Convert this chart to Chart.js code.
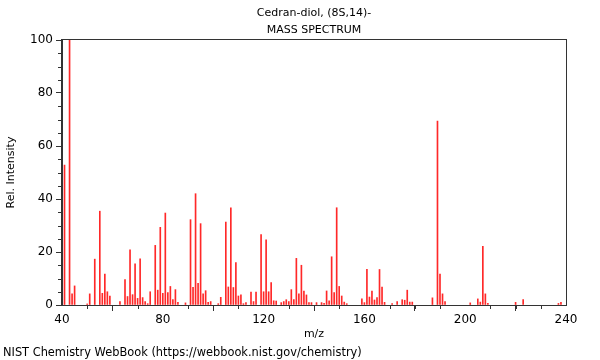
<!DOCTYPE html>
<html>
<head>
<meta charset="utf-8">
<script src="https://cdn.jsdelivr.net/npm/chart.js@4"></script>
<style>
  html, body { margin: 0; padding: 0; background: #fff; }
  #wrap { width: 600px; height: 360px; position: relative; }
</style>
</head>
<body>
<div id="wrap"><canvas id="massChart" width="600" height="360"></canvas></div>
<script>
// Spectrum peaks (m/z and relative intensity)
const mz = [41, 43, 44, 45, 50, 51, 53, 55, 56, 57, 58, 59, 63, 65, 66, 67, 68, 69, 70, 71,
            72, 73, 74, 75, 77, 78, 79, 80, 81, 82, 83, 84, 85, 86, 89, 91, 92, 93, 94, 95,
            96, 97, 98, 99, 102, 103, 105, 106, 107, 108, 109, 110, 111, 112, 113, 115, 116, 117, 119, 120,
            121, 122, 123, 124, 125, 127, 128, 129, 130, 131, 132, 133, 134, 135, 136, 137, 138, 139, 141, 143,
            144, 145, 146, 147, 148, 149, 150, 151, 152, 153, 159, 160, 161, 162, 163, 164, 165, 166, 167, 168,
            171, 173, 175, 176, 177, 178, 179, 187, 189, 190, 191, 192, 202, 205, 206, 207, 208, 209, 220, 223,
            237, 238];
const intensity = [52.8, 100, 4.2, 7.2, 0.4, 4.2, 17.3, 35.4, 4.4, 11.7, 5.0, 3.4, 1.3, 9.6, 3.2, 20.8, 3.9, 15.5, 2.5, 17.4,
            2.8, 1.3, 0.5, 5.0, 22.5, 5.6, 29.3, 4.4, 34.7, 4.7, 7.0, 2.0, 5.8, 1.0, 0.8, 32.2, 6.7, 42.0, 8.2, 30.7,
            4.2, 5.4, 1.0, 1.3, 0.5, 2.9, 31.3, 6.8, 36.7, 6.6, 16.0, 3.4, 3.8, 0.5, 0.9, 4.9, 1.3, 4.9, 26.6, 5.0,
            24.6, 5.0, 8.5, 1.6, 1.5, 0.9, 1.3, 2.0, 1.3, 5.8, 2.0, 17.6, 4.2, 15.0, 5.3, 3.8, 0.9, 0.9, 0.9, 0.9,
            0.6, 5.3, 1.6, 18.2, 4.7, 36.7, 7.0, 3.4, 1.1, 0.5, 2.3, 0.9, 13.5, 3.0, 5.3, 1.9, 2.8, 13.4, 6.8, 1.0,
            0.5, 1.3, 2.0, 1.8, 5.6, 1.1, 1.1, 2.7, 69.4, 11.7, 4.2, 1.3, 0.8, 2.3, 1.1, 22.1, 4.2, 0.6, 1.0, 2.0,
            0.6, 1.0];

const titleLines = ['Cedran-diol, (8S,14)-', 'MASS SPECTRUM'];
const xTitle = 'm/z';
const yTitle = 'Rel. Intensity';
const footer = 'NIST Chemistry WebBook (https://webbook.nist.gov/chemistry)';

const FONT = 'DejaVu Sans, sans-serif';
const AXIS = '#333';

// Frame, minor ticks and texts drawn over the chart
const decorations = {
    id: 'decorations',
    afterDraw(chart) {
        const ctx = chart.ctx;
        const a = chart.chartArea;
        const xs = chart.scales.x, ys = chart.scales.y;
        ctx.save();
        ctx.strokeStyle = AXIS;
        ctx.lineWidth = 1;
        ctx.strokeRect(Math.round(a.left) - 0.5, Math.round(a.top) - 0.5,
                       Math.round(a.right - a.left) + 1, Math.round(a.bottom - a.top) + 1);

        // minor ticks
        ctx.beginPath();
        for (let v = 40; v <= 240; v += 10) {
            if (v % 40 === 0) continue;
            const px = Math.round(xs.getPixelForValue(v)) + 0.5;
            ctx.moveTo(px, a.bottom);
            ctx.lineTo(px, a.bottom + 4);
        }
        for (let v = 0; v <= 100; v += 5) {
            if (v % 20 === 0) continue;
            const py = Math.round(ys.getPixelForValue(v)) + 0.5;
            ctx.moveTo(a.left, py);
            ctx.lineTo(a.left - 4, py);
        }
        ctx.stroke();

        // texts
        ctx.fillStyle = '#000';
        ctx.font = '11px ' + FONT;
        ctx.textAlign = 'center';
        ctx.textBaseline = 'middle';
        const cx = (a.left + a.right) / 2;
        ctx.fillText(titleLines[0], cx, 13);
        ctx.fillText(titleLines[1], cx, 30);
        ctx.fillText(xTitle, cx, 334);
        ctx.save();
        ctx.translate(11, (a.top + a.bottom) / 2);
        ctx.rotate(-Math.PI / 2);
        ctx.fillText(yTitle, 0, 0);
        ctx.restore();
        ctx.font = '11.4px ' + FONT;
        ctx.textAlign = 'left';
        ctx.fillText(footer, 3, 353);
        ctx.restore();
    }
};

const ctx = document.getElementById('massChart').getContext('2d');
const massChart = new Chart(ctx, {
    type: 'bar',
    data: {
        datasets: [{
            data: mz.map((m, i) => ({ x: m, y: intensity[i] })),
            backgroundColor: 'rgb(255, 40, 40)',
            borderWidth: 0,
            barThickness: 1
        }]
    },
    options: {
        responsive: false,
        animation: false,
        layout: { padding: { top: 40, right: 34, bottom: 0, left: 0 } },
        plugins: {
            legend: { display: false },
            tooltip: { enabled: false }
        },
        scales: {
            x: {
                type: 'linear',
                min: 40,
                max: 240,
                offset: false,
                afterFit: s => { s.height = 55; },
                grid: { drawOnChartArea: false, tickLength: 6, color: AXIS },
                border: { color: AXIS },
                ticks: {
                    stepSize: 40,
                    padding: 2,
                    color: '#000',
                    font: { family: FONT, size: 12 },
                    maxRotation: 0
                }
            },
            y: {
                min: 0,
                max: 100,
                afterFit: s => { s.width = 62; },
                grid: { drawOnChartArea: false, tickLength: 6, color: AXIS },
                border: { color: AXIS },
                ticks: {
                    stepSize: 20,
                    padding: 3,
                    color: '#000',
                    font: { family: FONT, size: 12 }
                }
            }
        }
    },
    plugins: [decorations]
});
</script>
</body>
</html>
